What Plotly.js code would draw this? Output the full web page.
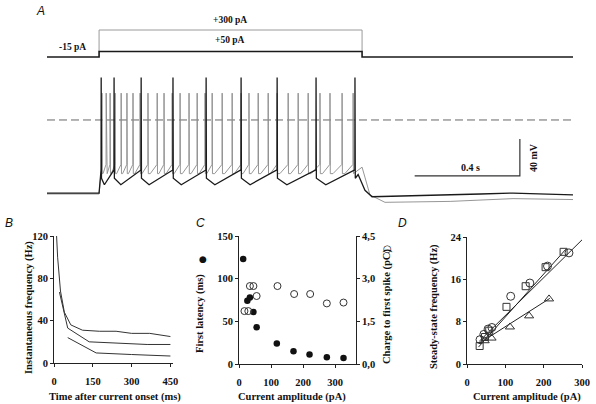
<!DOCTYPE html>
<html><head><meta charset="utf-8">
<script src="https://cdn.plot.ly/plotly-3.0.1.min.js"></script>
<style>html,body{margin:0;padding:0;background:#fff}#chart{width:596px;height:404px}</style>
</head><body><div id="chart"></div>
<script>
// ---------- Panel A: stimulus (pA) ----------
const stimTime50 = [-198, 0, 0, 1000, 1000, 1802];
const stimLevel50 = [-15, -15, 50, 50, -15, -15];
const stimTime300 = [0, 0, 1000, 1000];
const stimLevel300 = [50, 300, 300, 50];

// ---------- Panel A: voltage traces (ms, mV) ----------
const spikes50 = [8, 57, 160, 281, 407, 540, 677, 825, 973];
const spikes300 = [11, 27, 42, 61, 84, 106, 129, 156, 186, 221, 247, 278, 308, 342, 373, 403, 430, 468, 506, 540, 570, 605, 643, 677, 719, 757, 795, 840, 878, 924, 966];
const rest50 = -79, peak50 = 46, after50 = -63, trough50 = -70, thresh50 = -54;
const rest300 = -80, peak300 = 29, after300 = -58, trough300 = -58, thresh300 = -48;
const tail50T = [985, 1011, 1038, 1220, 1450, 1574, 1700, 1802];
const tail50V = [-59, -76, -83, -82, -80, -79, -80, -81];
const tail300T = [1000, 1030, 1087, 1335, 1574, 1802];
const tail300V = [-51, -81, -89, -88, -85, -86];
const zeroLineT = [-198, 1802];
const zeroLineV = [0, 0];
const scaleBarT = [1200, 1600, 1600];
const scaleBarV = [-60.5, -60.5, -20.5];

// ---------- Panel B: instantaneous frequency ----------
const bTopT = [10, 14, 25, 40, 65, 110, 175, 240, 300, 370, 450];
const bTopF = [120, 100, 68, 48, 36, 31, 30, 30, 28, 28, 25];
const bMidT = [21, 53, 136, 240, 360, 450];
const bMidF = [67, 33, 20, 19, 17.5, 17.5];
const bBotT = [53, 163, 300, 450];
const bBotF = [24, 9.5, 8, 6.6];

// ---------- Panel C ----------
const cLatX = [13, 26, 34, 45, 55, 118, 170, 220, 274, 326];
const cLatY = [123, 74, 78, 61, 43, 24, 15, 11, 8, 7];
const cChgX = [17, 29, 34, 45, 55, 120, 172, 222, 274, 326];
const cChgY = [1.86, 1.86, 2.74, 2.74, 2.39, 2.74, 2.46, 2.46, 2.13, 2.16];
const cRightTicks = [0, 1.5, 3.0, 4.5];
const cRightLabels = ['0,0', '1,5', '3,0', '4,5'];

// ---------- Panel D ----------
const dCircX = [34, 44, 55, 65, 114, 164, 210, 266];
const dCircY = [4.6, 5.6, 6.6, 6.9, 12.8, 15.3, 18.5, 21.0];
const dSqX = [33, 47, 58, 103, 153, 205, 252];
const dSqY = [3.4, 5.1, 6.3, 10.8, 14.7, 18.3, 21.2];
const dTriX = [46, 64, 112, 162, 214];
const dTriY = [4.4, 4.9, 7.0, 9.1, 12.3];
const dFitCircX = [32, 302], dFitCircY = [4.3, 23.6];
const dFitSqX = [30, 258], dFitSqY = [3.2, 21.7];
const dFitTriX = [34, 216], dFitTriY = [4.0, 12.4];

function buildTrace(spikes, rest, peak, after, trough, thresh, tailT, tailV) {
  const x = [-198, 0], y = [rest, rest];
  spikes.forEach((t, i) => {
    x.push(t - 0.5, t, t + 1.2); y.push(thresh, peak, after);
    if (i + 1 < spikes.length) {
      const isi = spikes[i + 1] - t;
      x.push(t + 0.25 * isi); y.push(trough);
    }
  });
  tailT.forEach((t, i) => { x.push(t); y.push(tailV[i]); });
  return {x, y};
}
const tr50 = buildTrace(spikes50, rest50, peak50, after50, trough50, thresh50, tail50T, tail50V);
const tr300 = buildTrace(spikes300, rest300, peak300, after300, trough300, thresh300, tail300T, tail300V);

const serif = 'Liberation Serif, Times New Roman, serif';
const dark = '#1a1a1a';
const ln = (w, c, d) => ({width: w, color: c, dash: d || 'solid'});

const traces = [
  {x: stimTime300, y: stimLevel300, xaxis: 'x', yaxis: 'y', mode: 'lines', line: ln(1, '#9a9a9a')},
  {x: stimTime50, y: stimLevel50, xaxis: 'x', yaxis: 'y', mode: 'lines', line: ln(1.6, dark)},
  {x: zeroLineT, y: zeroLineV, xaxis: 'x2', yaxis: 'y2', mode: 'lines', line: ln(1, '#666', '8px,4px')},
  {x: tr300.x, y: tr300.y, xaxis: 'x2', yaxis: 'y2', mode: 'lines', line: ln(0.9, '#8a8a8a')},
  {x: tr50.x, y: tr50.y, xaxis: 'x2', yaxis: 'y2', mode: 'lines', line: ln(1.3, dark)},
  {x: scaleBarT, y: scaleBarV, xaxis: 'x2', yaxis: 'y2', mode: 'lines', line: ln(1.2, '#333')},
  {x: bTopT, y: bTopF, xaxis: 'x3', yaxis: 'y3', mode: 'lines', line: ln(1, '#333')},
  {x: bMidT, y: bMidF, xaxis: 'x3', yaxis: 'y3', mode: 'lines', line: ln(1, '#333')},
  {x: bBotT, y: bBotF, xaxis: 'x3', yaxis: 'y3', mode: 'lines', line: ln(1, '#333')},
  {x: cLatX, y: cLatY, xaxis: 'x4', yaxis: 'y4', mode: 'markers', cliponaxis: false,
   marker: {symbol: 'circle', size: 6.5, color: '#111'}},
  {x: cChgX, y: cChgY, xaxis: 'x4', yaxis: 'y5', mode: 'markers', cliponaxis: false,
   marker: {symbol: 'circle-open', size: 7, color: '#333', line: {width: 1}}},
  {x: dFitCircX, y: dFitCircY, xaxis: 'x5', yaxis: 'y6', mode: 'lines', line: ln(1, '#222')},
  {x: dFitSqX, y: dFitSqY, xaxis: 'x5', yaxis: 'y6', mode: 'lines', line: ln(1, '#222')},
  {x: dFitTriX, y: dFitTriY, xaxis: 'x5', yaxis: 'y6', mode: 'lines', line: ln(1, '#222')},
  {x: dCircX, y: dCircY, xaxis: 'x5', yaxis: 'y6', mode: 'markers', cliponaxis: false,
   marker: {symbol: 'circle-open', size: 8, color: '#333', line: {width: 1}}},
  {x: dSqX, y: dSqY, xaxis: 'x5', yaxis: 'y6', mode: 'markers', cliponaxis: false,
   marker: {symbol: 'square-open', size: 7, color: '#333', line: {width: 1}}},
  {x: dTriX, y: dTriY, xaxis: 'x5', yaxis: 'y6', mode: 'markers', cliponaxis: false,
   marker: {symbol: 'triangle-up-open', size: 8, color: '#333', line: {width: 1}}}
];

const W = 596, H = 404;
const px = v => v / W, py = v => 1 - v / H;
const hidden = {visible: false, showgrid: false, zeroline: false, fixedrange: true};
const tickFont = {family: serif, size: 10.5, color: '#111', weight: 700};
const ax = (extra) => Object.assign({
  showgrid: false, zeroline: false, showline: true, linecolor: '#222', linewidth: 1,
  ticks: 'outside', ticklen: 3, tickcolor: '#222', tickwidth: 1, tickfont: tickFont,
  fixedrange: true
}, extra);

const textFont = (s) => ({family: serif, size: s || 10.5, color: '#111', weight: 700});
const ann = (text, x, y, opts) => Object.assign({
  text, x: px(x), y: py(y), xref: 'paper', yref: 'paper', showarrow: false,
  xanchor: 'center', yanchor: 'middle', font: textFont()
}, opts || {});
const letterFont = {family: 'Liberation Sans, Arial, sans-serif', size: 12, color: '#111', style: 'italic'};

const layout = {
  width: W, height: H, margin: {l: 0, r: 0, t: 0, b: 0},
  paper_bgcolor: '#fff', plot_bgcolor: 'rgba(0,0,0,0)', showlegend: false,
  xaxis: Object.assign({}, hidden, {domain: [px(47), px(573)], range: [-198, 1802], anchor: 'y'}),
  yaxis: Object.assign({}, hidden, {domain: [py(70), py(20)], range: [-166.7, 416.7], anchor: 'x'}),
  xaxis2: Object.assign({}, hidden, {domain: [px(47), px(573)], range: [-198, 1802], anchor: 'y2'}),
  yaxis2: Object.assign({}, hidden, {domain: [py(215), py(70)], range: [-102.7, 54], anchor: 'x2'}),
  xaxis3: ax({domain: [px(54), px(173)], range: [0, 460], anchor: 'y3', tickvals: [0, 150, 300, 450], ticklabelstandoff: 5}),
  yaxis3: ax({domain: [py(363), py(236)], range: [0, 120], anchor: 'x3', tickvals: [0, 40, 80, 120]}),
  xaxis4: ax({domain: [px(239), px(356)], range: [0, 365], anchor: 'y4', tickvals: [0, 100, 200, 300], ticklabelstandoff: 5}),
  yaxis4: ax({domain: [py(364), py(236)], range: [0, 150], anchor: 'x4', tickvals: [0, 50, 100, 150]}),
  yaxis5: ax({overlaying: 'y4', side: 'right', range: [0, 4.5], anchor: 'x4',
              tickvals: cRightTicks, ticktext: cRightLabels}),
  xaxis5: ax({domain: [px(467), px(582)], range: [0, 300], anchor: 'y6', tickvals: [0, 100, 200, 300], ticklabelstandoff: 5}),
  yaxis6: ax({domain: [py(364), py(237)], range: [0, 24], anchor: 'x5', tickvals: [0, 8, 16, 24]}),
  annotations: [
    ann('A', 40, 11, {font: letterFont}),
    ann('+300 pA', 230, 20, {font: textFont(9.5)}),
    ann('+50 pA', 230, 40, {font: textFont(9.5)}),
    ann('-15 pA', 72, 47, {font: textFont(9.5)}),
    ann('0.4 s', 470, 168, {font: textFont(10)}),
    ann('40 mV', 533, 158, {font: textFont(10), textangle: -90}),
    ann('B', 9, 223, {font: letterFont}),
    ann('C', 200, 223, {font: letterFont}),
    ann('D', 402, 223, {font: letterFont}),
    ann('Instantaneous frequency (Hz)', 29, 308, {textangle: -90}),
    ann('Time after current onset (ms)', 115, 397),
    ann('First latency (ms)', 200, 314, {textangle: -90}),
    ann('●', 203, 259, {font: {family: 'DejaVu Sans', size: 9, color: '#111'}}),
    ann('Charge to first spike (pC)', 387, 307, {textangle: -90}),
    ann('○', 387, 248, {font: {family: 'DejaVu Sans', size: 10, color: '#111'}}),
    ann('Current amplitude (pA)', 292, 397),
    ann('Steady-state frequency (Hz)', 434, 307, {textangle: -90}),
    ann('Current amplitude (pA)', 527, 397)
  ]
};

Plotly.newPlot('chart', traces, layout, {staticPlot: true, displayModeBar: false});
</script></body></html>
